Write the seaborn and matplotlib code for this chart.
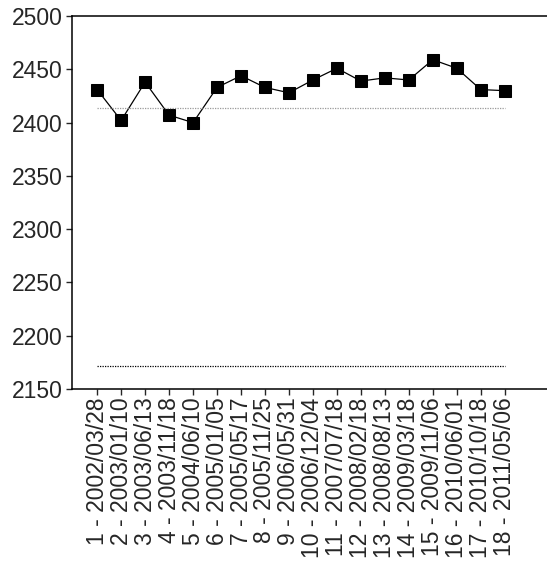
import matplotlib
matplotlib.use("Agg")
import matplotlib.pyplot as plt
import seaborn as sns
import numpy as np

# ── Data ──────────────────────────────────────────────────────
obs_no = list(range(1, 19))
dates = ["2002/03/28", "2003/01/10", "2003/06/13", "2003/11/18", "2004/06/10",
         "2005/01/05", "2005/05/17", "2005/11/25", "2006/05/31", "2006/12/04",
         "2007/07/18", "2008/02/18", "2008/08/13", "2009/03/18", "2009/11/06",
         "2010/06/01", "2010/10/18", "2011/05/06"]
values = [2431, 2402, 2438, 2407, 2400, 2433, 2444, 2433, 2428, 2440,
          2451, 2439, 2442, 2440, 2459, 2451, 2431, 2430]
upper_ref = 2413.7
lower_ref = 2172
y_ticks = [2150, 2200, 2250, 2300, 2350, 2400, 2450, 2500]

labels = [f"{n} - {d}" for n, d in zip(obs_no, dates)]
pos = np.arange(len(values))

# ── Plot ──────────────────────────────────────────────────────
sns.set_style("white")
plt.rcParams["font.family"] = ["Liberation Sans", "DejaVu Sans"]

fig = plt.figure(figsize=(5.47, 5.73), dpi=100)
ax = fig.add_axes([0.1316, 0.321, 0.87, 0.651])

sns.lineplot(x=pos, y=values, marker="s", markersize=9, color="black",
             markeredgecolor="black", linewidth=0.9, ax=ax)
ax.hlines(upper_ref, pos[0], pos[-1], colors="#9a9a9a",
          linestyles=(0, (1, 1)), linewidth=0.9)
ax.hlines(lower_ref, pos[0], pos[-1], colors="black",
          linestyles=(0, (1, 1)), linewidth=0.9)

ax.set_ylim(2150, 2500)
ax.set_xlim(-1.05, 18.8)
ax.set_yticks(y_ticks)
ax.set_xticks(pos)
ax.set_xticklabels(labels, rotation=90, fontsize=16.5)
ax.tick_params(axis="y", labelsize=16.5, direction="out", length=4.5,
               width=1, pad=2, left=True)
ax.tick_params(axis="x", direction="out", length=4.5, width=1, pad=1.5,
               bottom=True)

for side in ["left", "bottom", "top"]:
    ax.spines[side].set_color("black")
    ax.spines[side].set_linewidth(1.1)
ax.spines["right"].set_visible(False)

fig.savefig("out.png", dpi=100)
